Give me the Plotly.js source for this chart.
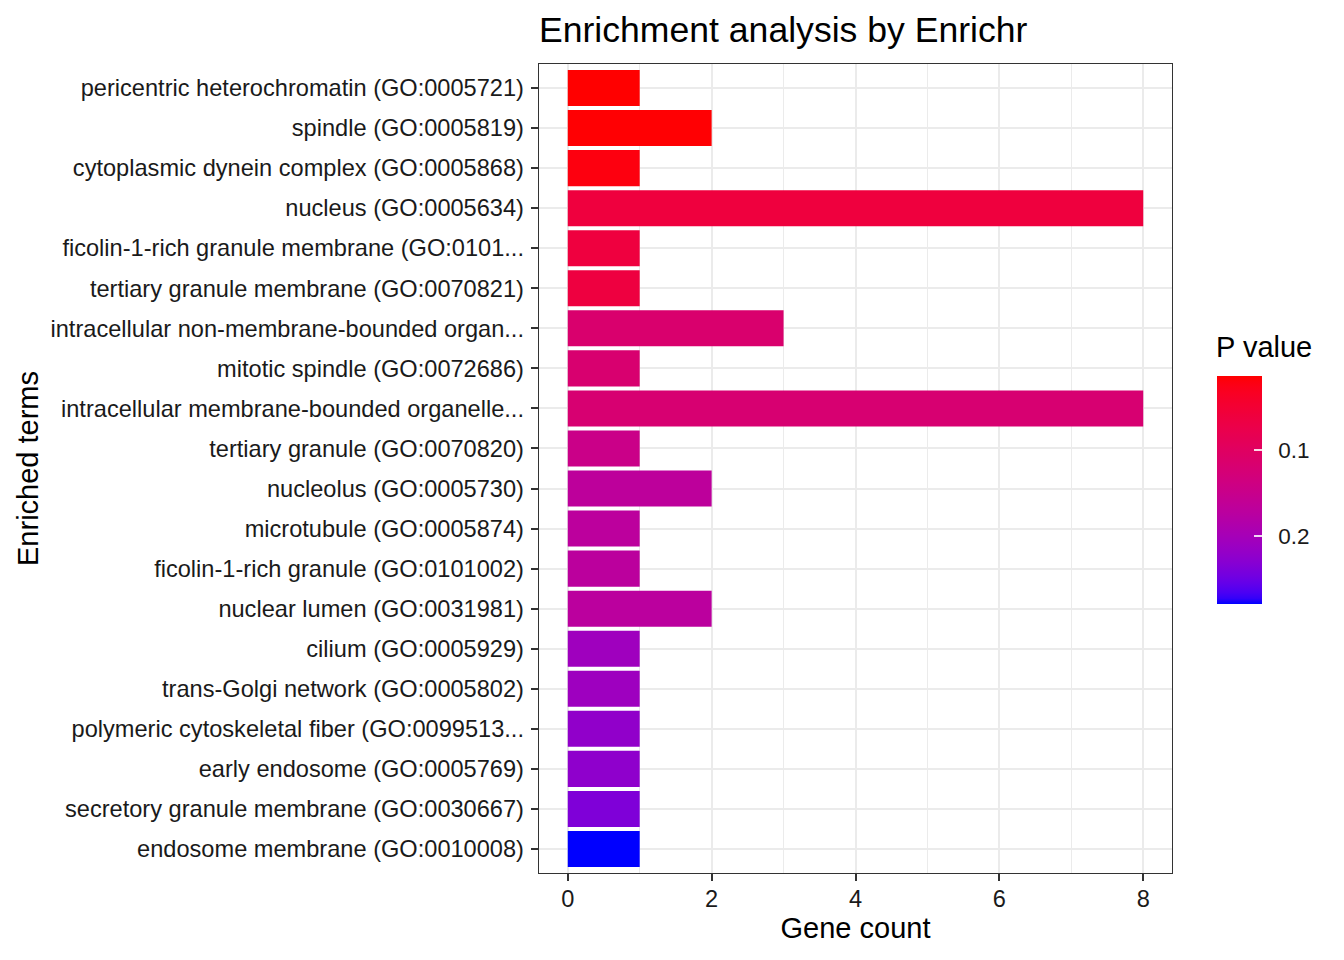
<!DOCTYPE html>
<html>
<head>
<meta charset="utf-8">
<script src="https://cdn.plot.ly/plotly-3.0.1.min.js"></script>
<style>html,body{margin:0;padding:0;background:#fff;}#chart{width:1344px;height:960px;}</style>
</head>
<body>
<div id="chart"></div>
<script>
// ---- data (top to bottom as drawn) ----
const terms = [
  "pericentric heterochromatin (GO:0005721)",
  "spindle (GO:0005819)",
  "cytoplasmic dynein complex (GO:0005868)",
  "nucleus (GO:0005634)",
  "ficolin-1-rich granule membrane (GO:0101...",
  "tertiary granule membrane (GO:0070821)",
  "intracellular non-membrane-bounded organ...",
  "mitotic spindle (GO:0072686)",
  "intracellular membrane-bounded organelle...",
  "tertiary granule (GO:0070820)",
  "nucleolus (GO:0005730)",
  "microtubule (GO:0005874)",
  "ficolin-1-rich granule (GO:0101002)",
  "nuclear lumen (GO:0031981)",
  "cilium (GO:0005929)",
  "trans-Golgi network (GO:0005802)",
  "polymeric cytoskeletal fiber (GO:0099513...",
  "early endosome (GO:0005769)",
  "secretory granule membrane (GO:0030667)",
  "endosome membrane (GO:0010008)"
];
const geneCount = [1, 2, 1, 8, 1, 1, 3, 1, 8, 1, 2, 1, 1, 2, 1, 1, 1, 1, 1, 1];
const pValue = [0.0141, 0.0155, 0.021, 0.061, 0.062, 0.063, 0.115, 0.117, 0.119, 0.146,
                0.168, 0.170, 0.171, 0.172, 0.207, 0.208, 0.222, 0.224, 0.237, 0.279];
const xTicks = [0, 2, 4, 6, 8];
const cbTickVals = [0.1, 0.2];
const cbTickText = ["0.1", "0.2"];

// ---- Lab-space gradient (red = low p, blue = high p), like ggplot's scale ----
function srgbToLin(c){ c/=255; return c<=0.04045? c/12.92 : Math.pow((c+0.055)/1.055,2.4); }
function linToSrgb(c){ c = c<=0.0031308? 12.92*c : 1.055*Math.pow(c,1/2.4)-0.055; return Math.max(0,Math.min(255,Math.round(c*255))); }
const Xn=0.95047,Yn=1.0,Zn=1.08883;
function f(t){ return t>0.008856? Math.cbrt(t) : 7.787*t+16/116; }
function finv(t){ return t>0.206893? t*t*t : (t-16/116)/7.787; }
function rgbToLab(r,g,b){
  const R=srgbToLin(r),G=srgbToLin(g),B=srgbToLin(b);
  const X=0.4124*R+0.3576*G+0.1805*B, Y=0.2126*R+0.7152*G+0.0722*B, Z=0.0193*R+0.1192*G+0.9505*B;
  const fx=f(X/Xn),fy=f(Y/Yn),fz=f(Z/Zn);
  return [116*fy-16, 500*(fx-fy), 200*(fy-fz)];
}
function labToRgb(L,a,bb){
  const fy=(L+16)/116, fx=fy+a/500, fz=fy-bb/200;
  const X=Xn*finv(fx), Y=Yn*finv(fy), Z=Zn*finv(fz);
  const R= 3.2406*X-1.5372*Y-0.4986*Z, G=-0.9689*X+1.8758*Y+0.0415*Z, B=0.0557*X-0.2040*Y+1.0570*Z;
  return "rgb("+linToSrgb(R)+","+linToSrgb(G)+","+linToSrgb(B)+")";
}
const labBlue = rgbToLab(0,0,255), labRed = rgbToLab(255,0,0);
const colorscale = [];
const N = 40;
for (let i=0;i<=N;i++){
  const s=i/N; // 0 -> blue (highest p), 1 -> red (lowest p)
  colorscale.push([s, labToRgb(labBlue[0]+(labRed[0]-labBlue[0])*s, labBlue[1]+(labRed[1]-labBlue[1])*s, labBlue[2]+(labRed[2]-labBlue[2])*s)]);
}
const negP = pValue.map(v => -v);

const FONT = '"Liberation Sans", Arial, Helvetica, sans-serif';
const plotL=539, plotR=1172, plotT=64, plotB=873;
const pw = plotR-plotL, ph = plotB-plotT;

const trace = {
  type: 'bar',
  orientation: 'h',
  x: geneCount,
  y: terms,
  width: 0.9,
  marker: {
    color: negP,
    cmin: -Math.max(...pValue),
    cmax: -Math.min(...pValue),
    colorscale: colorscale,
    line: {width: 0},
    showscale: true,
    colorbar: {
      x: (1217-plotL)/pw, xanchor: 'left', xref: 'paper',
      y: (plotB-490)/ph, yanchor: 'middle',
      thickness: 45, thicknessmode: 'pixels',
      len: 228, lenmode: 'pixels',
      xpad: 0, ypad: 0,
      outlinewidth: 0, borderwidth: 0,
      tickmode: 'array',
      tickvals: cbTickVals.map(v => -v),
      ticktext: cbTickText.map(t => '\u2002' + t),
      ticks: 'inside', ticklen: 8, tickwidth: 1.5, tickcolor: 'rgba(255,255,255,0.85)',
      tickfont: {family: FONT, size: 22.5, color: '#1a1a1a'}
    }
  },
  hoverinfo: 'skip'
};

const layout = {
  width: 1344, height: 960,
  margin: {l: plotL, r: 1344-plotR, t: plotT, b: 960-plotB, pad: 0},
  paper_bgcolor: '#ffffff',
  plot_bgcolor: '#ffffff',
  showlegend: false,
  font: {family: FONT, color: '#000'},
  title: {
    text: 'Enrichment analysis by Enrichr',
    font: {family: FONT, size: 35.6, color: '#000'},
    x: 0, xref: 'paper', xanchor: 'left',
    y: 1-30/960, yref: 'container', yanchor: 'middle'
  },
  xaxis: {
    range: [-0.4, 8.4],
    tickmode: 'array', tickvals: xTicks, ticktext: xTicks.map(String),
    showgrid: true, gridcolor: '#EBEBEB', gridwidth: 2,
    minor: {dtick: 1, tick0: 0, showgrid: true, gridcolor: '#EBEBEB', gridwidth: 1, ticks: ''},
    zeroline: false,
    showline: true, mirror: true, linecolor: '#333333', linewidth: 1.3,
    ticks: 'outside', ticklen: 7, tickwidth: 2, tickcolor: '#333333',
    ticklabelstandoff: -3,
    tickfont: {family: FONT, size: 23.6, color: '#1a1a1a'},
    title: {text: 'Gene count', font: {family: FONT, size: 29, color: '#000'}, standoff: 6},
    fixedrange: true
  },
  yaxis: {
    type: 'category',
    categoryorder: 'array', categoryarray: terms,
    range: [19.6, -0.6],
    showgrid: true, gridcolor: '#EBEBEB', gridwidth: 2,
    zeroline: false,
    showline: true, mirror: true, linecolor: '#333333', linewidth: 1.3,
    ticks: 'outside', ticklen: 7, tickwidth: 2, tickcolor: '#333333',
    ticklabelstandoff: 2,
    tickfont: {family: FONT, size: 23.6, color: '#1a1a1a'},
    title: {text: 'Enriched terms', font: {family: FONT, size: 29, color: '#000'}, standoff: 3},
    fixedrange: true
  },
  annotations: [{
    text: 'P value', showarrow: false,
    xref: 'paper', yref: 'paper',
    x: (1214-plotL)/pw, xanchor: 'left',
    y: (plotB-347)/ph, yanchor: 'middle',
    font: {family: FONT, size: 29, color: '#000'}
  }]
};

Plotly.newPlot('chart', [trace], layout, {displayModeBar: false, staticPlot: true});
</script>
</body>
</html>
